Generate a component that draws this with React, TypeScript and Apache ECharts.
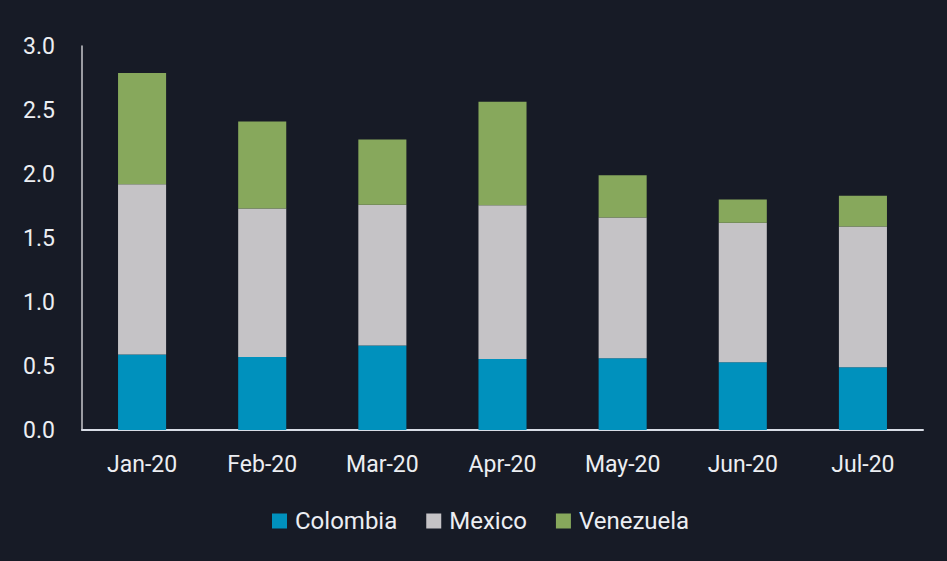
import React, { useEffect, useRef } from "react";
import * as echarts from "echarts";

const categories = ["Jan-20", "Feb-20", "Mar-20", "Apr-20", "May-20", "Jun-20", "Jul-20"];
const colombia = [0.59, 0.57, 0.66, 0.555, 0.56, 0.53, 0.49];
const mexico = [1.33, 1.16, 1.10, 1.20, 1.10, 1.09, 1.10];
const venezuela = [0.87, 0.68, 0.51, 0.81, 0.33, 0.18, 0.24];
const yTicks = { min: 0, max: 3, interval: 0.5 };

export default function App() {
  const ref = useRef<HTMLDivElement>(null);
  useEffect(() => {
    if (!ref.current) return;
    const chart = echarts.init(ref.current, null, { renderer: "svg" });
    const font = "Roboto";
    const textColor = "#eceef2";
    const mk = (name: string, data: number[], color: string) => ({
      name,
      type: "bar",
      stack: "total",
      data,
      barWidth: "40%",
      itemStyle: { color },
    });
    chart.setOption({
      animation: false,
      backgroundColor: "#171b26",
      textStyle: { fontFamily: font },
      grid: { left: 82, right: 24, top: 46, bottom: 131, containLabel: false },
      legend: {
        bottom: 23,
        left: 267,
        itemWidth: 15,
        itemHeight: 15,
        itemGap: 29,
        icon: "rect",
        textStyle: { color: textColor, fontSize: 24, fontFamily: font, padding: [0, 0, 0, 3] },
        data: ["Colombia", "Mexico", "Venezuela"],
      },
      xAxis: {
        type: "category",
        data: categories,
        axisLine: { show: true, lineStyle: { color: "#d8dce5", width: 2 } },
        axisTick: { show: false },
        axisLabel: { color: textColor, fontSize: 23, margin: 23, fontFamily: font },
      },
      yAxis: {
        type: "value",
        min: yTicks.min,
        max: yTicks.max,
        interval: yTicks.interval,
        axisLine: { show: true, lineStyle: { color: "#c8c8cc", width: 1.5 } },
        axisTick: { show: false },
        splitLine: { show: false },
        axisLabel: {
          color: textColor,
          fontSize: 23,
          margin: 27,
          fontFamily: font,
          formatter: (v: number) => v.toFixed(1),
        },
      },
      series: [
        mk("Colombia", colombia, "#0091bd"),
        mk("Mexico", mexico, "#c5c3c6"),
        mk("Venezuela", venezuela, "#87a85c"),
      ],
    });
    return () => chart.dispose();
  }, []);
  return <div ref={ref} style={{ width: 947, height: 561, position: "absolute", left: 0, top: 0 }} />;
}
